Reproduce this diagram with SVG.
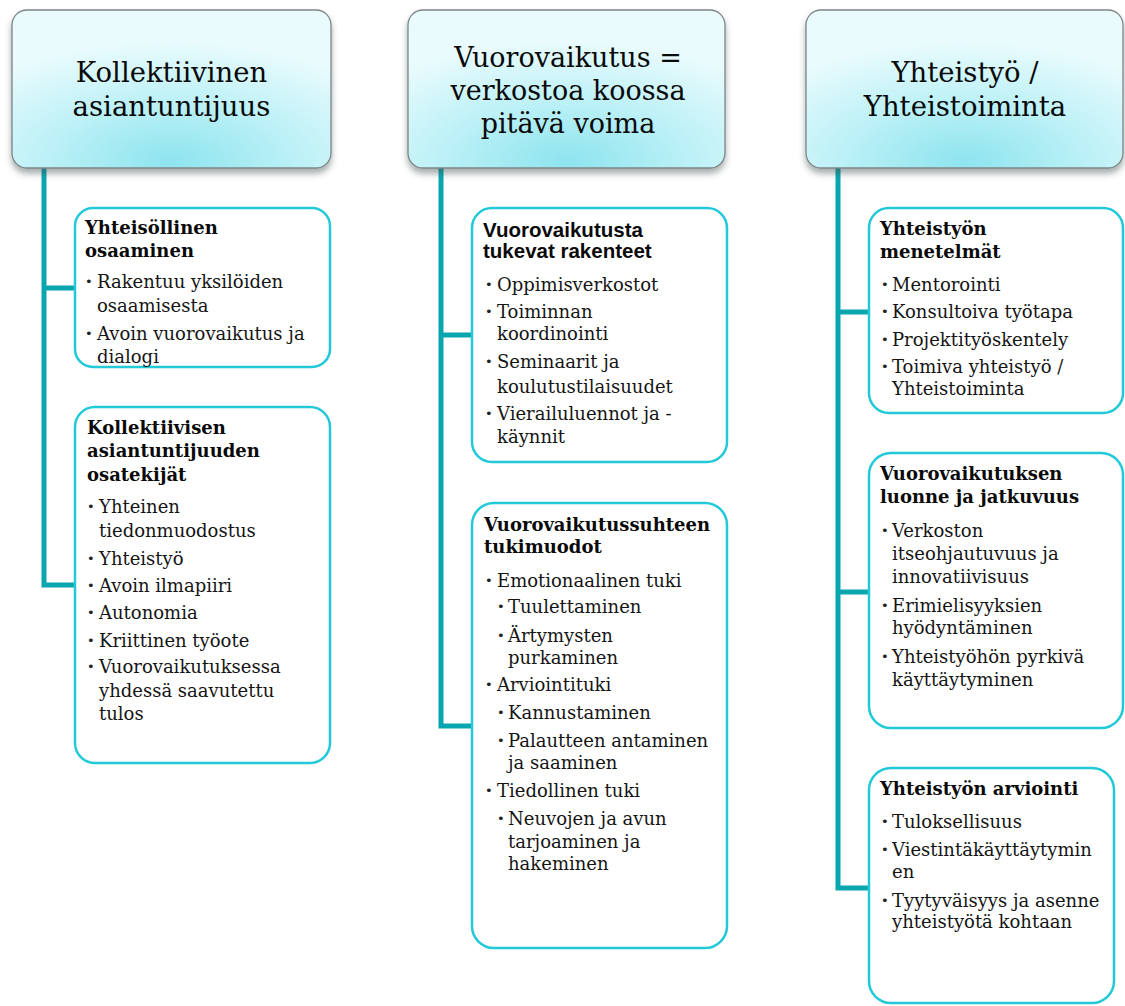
<svg xmlns="http://www.w3.org/2000/svg" width="1125" height="1006" viewBox="0 0 1125 1006">
<defs>
<radialGradient id="hg" cx="0.5" cy="1" r="0.8" fx="0.5" fy="0.95">
<stop offset="0" stop-color="#8ee4ee"/>
<stop offset="0.5" stop-color="#bdf1f7"/>
<stop offset="1" stop-color="#e9fbfd"/>
</radialGradient>
<filter id="sh" x="-10%" y="-10%" width="120%" height="130%">
<feDropShadow dx="0" dy="5" stdDeviation="3" flood-color="#3a4a4c" flood-opacity="0.45"/>
</filter>
</defs>
<style>
.hbox{fill:url(#hg);stroke:#7d8586;stroke-width:1.3}
.cbox{fill:#ffffff;stroke:#22c9d8;stroke-width:2.5}
.conn{fill:none;stroke:#0aa6b0;stroke-width:5}
.ht{font-family:"DejaVu Serif","Liberation Serif",serif;fill:#0a0a0a;text-anchor:middle}
.t{font-family:"DejaVu Serif","Liberation Serif",serif;font-size:18px;fill:#141414}
.b{font-weight:bold;fill:#0a0a0a}
.s{font-family:"Liberation Sans",Arial,sans-serif;font-weight:bold;font-size:20.5px;fill:#0a0a0a}
.bu{font-family:"DejaVu Sans",sans-serif;font-size:13px;fill:#222}
</style>
<rect width="1125" height="1006" fill="#ffffff"/>
<g id="connectors">
<path class="conn" d="M44 168 V585 H77 M44 288 H77"/>
<path class="conn" d="M441 168 V726 H474 M441 335 H474"/>
<path class="conn" d="M838 168 V888 H871 M838 312 H871 M838 592 H871"/>
</g>
<g id="header1">
<rect class="hbox" x="12" y="10" width="319" height="158" rx="15" filter="url(#sh)"/>
<text class="ht" font-size="27.5" x="171.5" y="82">Kollektiivinen</text>
<text class="ht" font-size="27.5" x="171.5" y="116">asiantuntijuus</text>
</g>
<g id="header2">
<rect class="hbox" x="408" y="10" width="317" height="158" rx="15" filter="url(#sh)"/>
<text class="ht" font-size="27" x="568" y="67">Vuorovaikutus =</text>
<text class="ht" font-size="27" x="568" y="100">verkostoa koossa</text>
<text class="ht" font-size="27" x="568" y="133">pitävä voima</text>
</g>
<g id="header3">
<rect class="hbox" x="806" y="10" width="317" height="158" rx="15" filter="url(#sh)"/>
<text class="ht" font-size="27.5" x="965" y="82">Yhteistyö /</text>
<text class="ht" font-size="27.5" x="965" y="116">Yhteistoiminta</text>
</g>
<g id="box1">
<rect class="cbox" x="75" y="208" width="255" height="159" rx="18"/>
<text class="t b" x="85" y="234">Yhteisöllinen</text>
<text class="t b" x="85" y="257">osaaminen</text>
<text class="bu" x="85" y="286">•</text>
<text class="t" x="97" y="288">Rakentuu yksilöiden</text>
<text class="t" x="97" y="312">osaamisesta</text>
<text class="bu" x="85" y="338">•</text>
<text class="t" x="97" y="340">Avoin vuorovaikutus ja</text>
<text class="t" x="97" y="363">dialogi</text>
</g>
<g id="box2">
<rect class="cbox" x="75" y="407" width="255" height="356" rx="20"/>
<text class="t b" x="87" y="434">Kollektiivisen</text>
<text class="t b" x="87" y="457">asiantuntijuuden</text>
<text class="t b" x="87" y="481">osatekijät</text>
<text class="bu" x="87" y="511">•</text>
<text class="t" x="99" y="513">Yhteinen</text>
<text class="t" x="99" y="537">tiedonmuodostus</text>
<text class="bu" x="87" y="563">•</text>
<text class="t" x="99" y="565">Yhteistyö</text>
<text class="bu" x="87" y="590">•</text>
<text class="t" x="99" y="592">Avoin ilmapiiri</text>
<text class="bu" x="87" y="617">•</text>
<text class="t" x="99" y="619">Autonomia</text>
<text class="bu" x="87" y="645">•</text>
<text class="t" x="99" y="647">Kriittinen työote</text>
<text class="bu" x="87" y="671">•</text>
<text class="t" x="99" y="673">Vuorovaikutuksessa</text>
<text class="t" x="99" y="697">yhdessä saavutettu</text>
<text class="t" x="99" y="720">tulos</text>
</g>
<g id="box3">
<rect class="cbox" x="472" y="208" width="255" height="254" rx="20"/>
<text class="s" x="483" y="237">Vuorovaikutusta</text>
<text class="s" x="483" y="258">tukevat rakenteet</text>
<text class="bu" x="485" y="289">•</text>
<text class="t" x="497" y="291">Oppimisverkostot</text>
<text class="bu" x="485" y="316">•</text>
<text class="t" x="497" y="318">Toiminnan</text>
<text class="t" x="497" y="340">koordinointi</text>
<text class="bu" x="485" y="366">•</text>
<text class="t" x="497" y="368">Seminaarit ja</text>
<text class="t" x="497" y="393">koulutustilaisuudet</text>
<text class="bu" x="485" y="418">•</text>
<text class="t" x="497" y="420">Vierailuluennot ja -</text>
<text class="t" x="497" y="443">käynnit</text>
</g>
<g id="box4">
<rect class="cbox" x="472" y="503" width="255" height="445" rx="22"/>
<text class="t b" x="484" y="531">Vuorovaikutussuhteen</text>
<text class="t b" x="484" y="553">tukimuodot</text>
<text class="bu" x="485" y="585">•</text>
<text class="t" x="497" y="587">Emotionaalinen tuki</text>
<text class="bu" x="497" y="611">•</text>
<text class="t" x="508" y="613">Tuulettaminen</text>
<text class="bu" x="497" y="640">•</text>
<text class="t" x="508" y="642">Ärtymysten</text>
<text class="t" x="508" y="664">purkaminen</text>
<text class="bu" x="485" y="689">•</text>
<text class="t" x="497" y="691">Arviointituki</text>
<text class="bu" x="497" y="717">•</text>
<text class="t" x="508" y="719">Kannustaminen</text>
<text class="bu" x="497" y="745">•</text>
<text class="t" x="508" y="747">Palautteen antaminen</text>
<text class="t" x="508" y="769">ja saaminen</text>
<text class="bu" x="485" y="795">•</text>
<text class="t" x="497" y="797">Tiedollinen tuki</text>
<text class="bu" x="497" y="823">•</text>
<text class="t" x="508" y="825">Neuvojen ja avun</text>
<text class="t" x="508" y="848">tarjoaminen ja</text>
<text class="t" x="508" y="870">hakeminen</text>
</g>
<g id="box5">
<rect class="cbox" x="869" y="208" width="254" height="205" rx="20"/>
<text class="t b" x="880" y="235">Yhteistyön</text>
<text class="t b" x="880" y="258">menetelmät</text>
<text class="bu" x="881" y="289">•</text>
<text class="t" x="892" y="291">Mentorointi</text>
<text class="bu" x="881" y="316">•</text>
<text class="t" x="892" y="318">Konsultoiva työtapa</text>
<text class="bu" x="881" y="344">•</text>
<text class="t" x="892" y="346">Projektityöskentely</text>
<text class="bu" x="881" y="371">•</text>
<text class="t" x="892" y="373">Toimiva yhteistyö /</text>
<text class="t" x="892" y="395">Yhteistoiminta</text>
</g>
<g id="box6">
<rect class="cbox" x="869" y="453" width="254" height="275" rx="22"/>
<text class="t b" x="880" y="480">Vuorovaikutuksen</text>
<text class="t b" x="880" y="503">luonne ja jatkuvuus</text>
<text class="bu" x="881" y="535">•</text>
<text class="t" x="892" y="537">Verkoston</text>
<text class="t" x="892" y="560">itseohjautuvuus ja</text>
<text class="t" x="892" y="583">innovatiivisuus</text>
<text class="bu" x="881" y="610">•</text>
<text class="t" x="892" y="612">Erimielisyyksien</text>
<text class="t" x="892" y="634">hyödyntäminen</text>
<text class="bu" x="881" y="661">•</text>
<text class="t" x="892" y="663">Yhteistyöhön pyrkivä</text>
<text class="t" x="892" y="686">käyttäytyminen</text>
</g>
<g id="box7">
<rect class="cbox" x="869" y="768" width="245" height="235" rx="22"/>
<text class="t b" x="880" y="795">Yhteistyön arviointi</text>
<text class="bu" x="881" y="826">•</text>
<text class="t" x="892" y="828">Tuloksellisuus</text>
<text class="bu" x="881" y="854">•</text>
<text class="t" x="892" y="856">Viestintäkäyttäytymin</text>
<text class="t" x="892" y="878">en</text>
<text class="bu" x="881" y="905">•</text>
<text class="t" x="892" y="907">Tyytyväisyys ja asenne</text>
<text class="t" x="892" y="928">yhteistyötä kohtaan</text>
</g>
</svg>
